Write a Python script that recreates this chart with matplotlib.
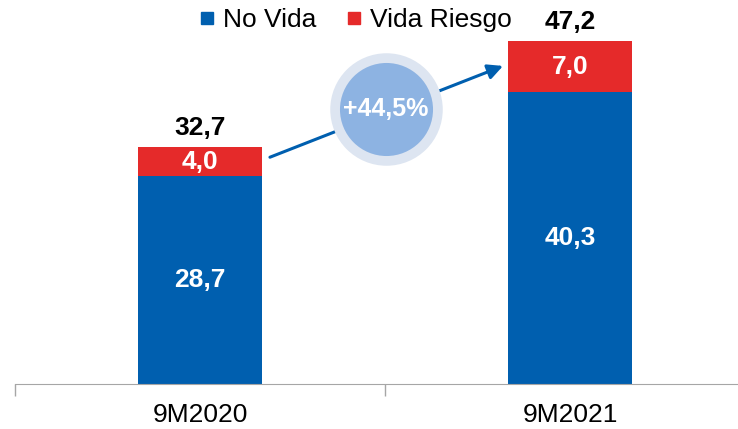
import matplotlib
matplotlib.use("Agg")
import matplotlib.pyplot as plt
from matplotlib.lines import Line2D
import numpy as np

plt.rcParams['font.family'] = ['Liberation Sans', 'DejaVu Sans']

# data
periods = ['9M2020', '9M2021']
no_vida = [28.7, 40.3]
vida_riesgo = [4.0, 7.0]
no_vida_labels = ['28,7', '40,3']
vida_labels = ['4,0', '7,0']
total_labels = ['32,7', '47,2']
growth_label = '+44,5%'

blue = '#005FAF'
red = '#E52A2A'

fig = plt.figure(figsize=(7.38, 4.29), dpi=100)
ax = fig.add_axes([15 / 738, 45 / 429, 740 / 738, 384 / 429])

x = np.arange(len(periods))
w = 0.333
ax.bar(x, no_vida, w, color=blue, zorder=2)
ax.bar(x, vida_riesgo, w, bottom=no_vida, color=red, zorder=2)

for i in range(len(periods)):
    ax.text(x[i], no_vida[i] / 2, no_vida_labels[i], ha='center', va='center',
            color='white', fontsize=19, fontweight='bold', zorder=3)
    ax.text(x[i], no_vida[i] + vida_riesgo[i] / 2, vida_labels[i], ha='center',
            va='center', color='white', fontsize=19, fontweight='bold', zorder=3)
    ax.annotate(total_labels[i], (x[i], no_vida[i] + vida_riesgo[i]),
                xytext=(0, 14), textcoords='offset points', ha='center',
                va='center', fontsize=19, fontweight='bold', color='black')

# growth arrow + bubble
ax.annotate('', xy=(0.819, 43.9), xytext=(0.189, 31.3),
            arrowprops=dict(arrowstyle='-|>,head_length=0.9,head_width=0.45',
                            color=blue, lw=2.2, shrinkA=0, shrinkB=0), zorder=4)
ax.plot([0.503], [37.9], 'o', ms=81, color='#DDE5F1', mec='none', zorder=5)
ax.plot([0.503], [37.9], 'o', ms=67, color='#8DB3E2', mec='none', zorder=6)
ax.text(0.503, 37.9, growth_label, ha='center', va='center', color='white',
        fontsize=18, fontweight='bold', zorder=7)

ax.set_xlim(-0.5, 1.5)
ax.set_ylim(0, 53)
for s in ['top', 'right', 'left']:
    ax.spines[s].set_visible(False)
ax.spines['bottom'].set_color('#A6A6A6')
ax.set_yticks([])
ax.set_xticks(x)
ax.set_xticklabels(periods, fontsize=19)
ax.tick_params(axis='x', which='major', length=0, pad=14)
ax.set_xticks([-0.5, 0.5, 1.5], minor=True)
ax.tick_params(axis='x', which='minor', length=8.5, color='#A6A6A6', width=1)

handles = [Line2D([], [], marker='s', ls='none', color=blue, ms=9),
           Line2D([], [], marker='s', ls='none', color=red, ms=9)]
fig.legend(handles, ['No Vida', 'Vida Riesgo'], loc='center',
           bbox_to_anchor=(356 / 738, 1 - 20 / 429), ncol=2, frameon=False,
           fontsize=19, handlelength=0.5, handletextpad=0.35, columnspacing=1.2,
           borderpad=0)

fig.savefig('out.png', dpi=100)
